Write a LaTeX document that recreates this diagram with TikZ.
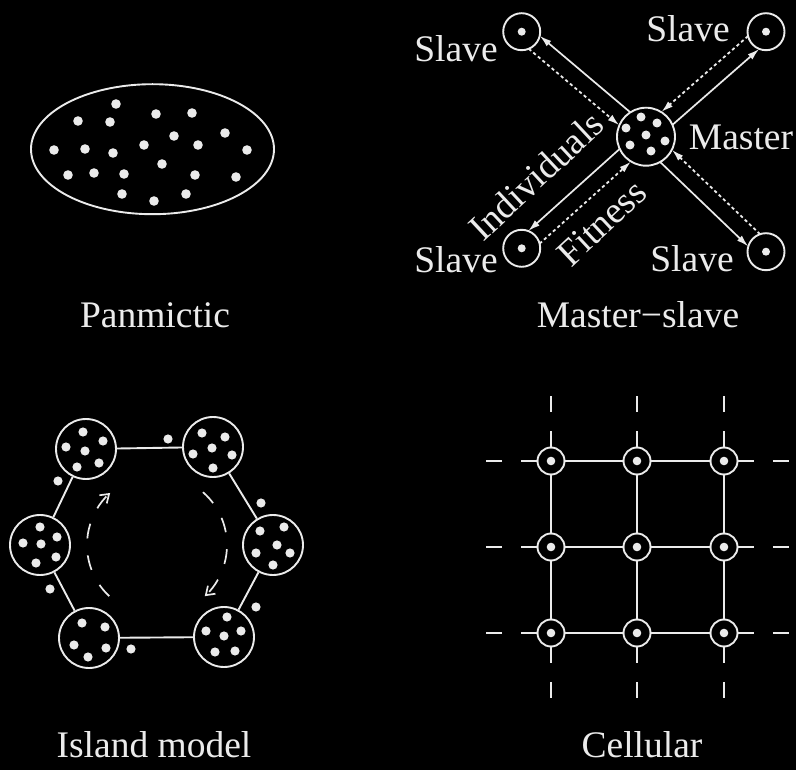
\documentclass[tikz,border=0pt]{standalone}
\usepackage{fontspec}
\setmainfont{Liberation Serif}
\usetikzlibrary{arrows.meta,calc,shapes.geometric}
\definecolor{fg}{gray}{0.92}
\begin{document}
\begin{tikzpicture}[x=1pt,y=-1pt,
  lab/.style={text=fg,font=\fontsize{37.5}{40}\selectfont,inner sep=0pt,anchor=base},
  dot/.style={fill=fg},
  ring/.style={circle,draw=fg,line width=1.9pt,inner sep=0pt},
  cell/.style={ring,minimum size=27pt,path picture={\fill[fg] (path picture bounding box.center) circle (4.3pt);}},
  slavenode/.style={ring,minimum size=37pt,path picture={\fill[fg] (path picture bounding box.center) circle (4pt);}},
  island/.style={ring,minimum size=60pt},
  link/.style={draw=fg,line width=1.9pt},
  ext/.style={draw=fg,line width=1.9pt,dash pattern=on 15.5pt off 19pt on 16pt off 80pt},
  indiv/.style={draw=fg,line width=1.7pt,-{Latex[length=12pt,width=7pt]},shorten <=27.7pt,shorten >=16.4pt},
  fitn/.style={draw=fg,line width=1.8pt,dash pattern=on 3.2pt off 2.8pt,-{Latex[length=12pt,width=7pt]},shorten <=16.4pt,shorten >=27.7pt},
  migr/.style={draw=fg,line width=1.7pt,dash pattern=on 15pt off 17pt,-{Straight Barb[length=8pt,width=11pt]}}
]
\fill[black] (0,0) rectangle (796,770);
\useasboundingbox (0,0) rectangle (796,770);

% ---------- Panmictic ----------
\node[draw=fg,line width=1.9pt,ellipse,minimum width=243pt,minimum height=130pt,inner sep=0pt] (pop) at (152.5,149.2) {};
\foreach \x/\y in {116/104,156/114,192/113,78/121,110/122,225/133,174/136,54/150,85/149,113/153,144/145,198/145,247/150,162/164,68/175,94/173,124/174,195/175,236/177,122/194,186/194,154/201}
  \fill[dot] (\x,\y) circle (4.8pt);
\node[lab] (lpan) at (155,327) {Panmictic};

% ---------- Master-slave ----------
\node[ring,minimum size=58pt] (m) at (646,136.7) {};
\foreach \x/\y in {641/117,657/123,626/128,646/135,665/141,630/145,651/151}
  \fill[dot] (\x,\y) circle (4.5pt);
\node[slavenode] (s1) at (521.7,31.7) {};
\node[slavenode] (s2) at (766,31.7) {};
\node[slavenode] (s3) at (521.7,248.3) {};
\node[slavenode] (s4) at (766,251.7) {};
\foreach \s in {s1,s2,s3,s4} {
  \draw[indiv] ($(m.center)!8.5pt!-90:(\s.center)$) -- ($(\s.center)!8.5pt!90:(m.center)$);
  \draw[fitn] ($(\s.center)!8.5pt!-90:(m.center)$) -- ($(m.center)!8.5pt!90:(\s.center)$);
}
\node[lab] (l1) at (456,62) {Slave};
\node[lab] (l2) at (688,42) {Slave};
\node[lab] (l3) at (456,273) {Slave};
\node[lab] (l4) at (692,272) {Slave};
\node[lab] (lm) at (741,150) {Master};
\node[text=fg,font=\fontsize{37.5}{40}\selectfont,inner sep=0pt,rotate=43] (lind) at (536,176) {Individuals};
\node[text=fg,font=\fontsize{37.5}{40}\selectfont,inner sep=0pt,rotate=43] (lfit) at (602,223) {Fitness};
\node[lab] (lms) at (638,327) {Master\textminus slave};

% ---------- Island model ----------
\node[island] (i1) at (86,449) {};
\node[island] (i2) at (213,447) {};
\node[island] (i3) at (273,545) {};
\node[island] (i4) at (224,637) {};
\node[island] (i5) at (89,638) {};
\node[island] (i6) at (40,545) {};
\draw[link] (i1) -- (i2);
\draw[link] (i2) -- (i3);
\draw[link] (i3) -- (i4);
\draw[link] (i4) -- (i5);
\draw[link] (i5) -- (i6);
\draw[link] (i6) -- (i1);
\foreach \x/\y in {83/432,103/441,66/447,85/451,99/463,77/467,
                   202/433,225/437,212/448,193/454,232/455,213/468,
                   40/527,57/537,23/543,41/544,56/557,36/563,
                   260/531,284/527,277/545,256/553,290/553,273/565,
                   82/623,105/627,74/645,106/648,88/657,
                   227/617,206/631,224/636,241/631,215/652,235/651}
  \fill[dot] (\x,\y) circle (4.6pt);
\foreach \x/\y in {168/439,58/481,261/503,50/589,256/607,131/649}
  \fill[dot] (\x,\y) circle (4.6pt);
\coordinate (mc) at (157,545);
\draw[migr] ([shift={(227:70pt)}]mc) arc[start angle=227,end angle=132,radius=70pt];
\draw[migr] ([shift={(49:70pt)}]mc) arc[start angle=49,end angle=-47,radius=70pt];
\node[lab] (lisl) at (154,757) {Island model};

% ---------- Cellular ----------
\foreach \i/\x in {1/551,2/637,3/724}
  \foreach \j/\y in {1/461,2/547,3/633}
    \node[cell] (c\i\j) at (\x,\y) {};
\foreach \a/\b in {11/21,21/31,12/22,22/32,13/23,23/33,11/12,12/13,21/22,22/23,31/32,32/33}
  \draw[link] (c\a) -- (c\b);
\foreach \i in {1,2,3} {
  \draw[ext] (c\i1.north) -- ++(0,-70);
  \draw[ext] (c\i3.south) -- ++(0,70);
  \draw[ext] (c1\i.west) -- ++(-70,0);
  \draw[ext] (c3\i.east) -- ++(70,0);
}
\node[lab] (lcel) at (642,757) {Cellular};
\end{tikzpicture}
\end{document}
